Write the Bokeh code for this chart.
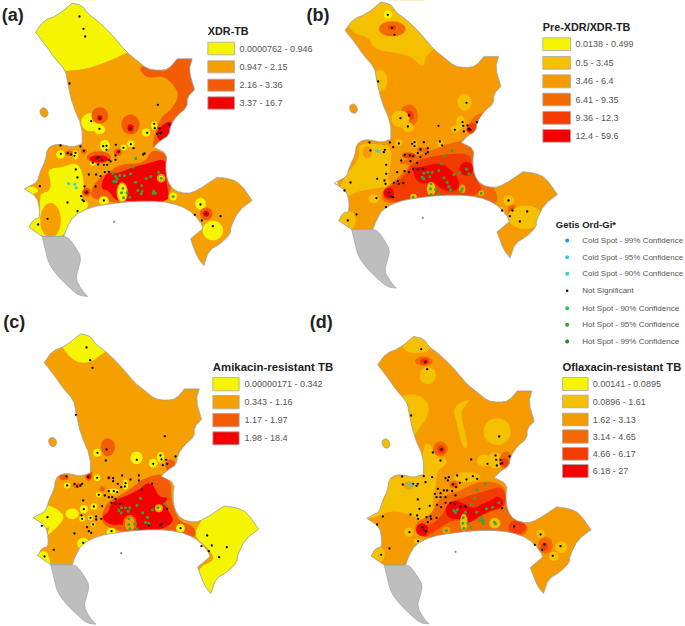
from bokeh.plotting import figure
from bokeh.models import Range1d
from bokeh.embed import file_html
from bokeh.resources import INLINE
from bokeh.core.properties import value

Y, G, O, O2, D, D2, R2, R = '#F5F500', '#F5C000', '#F59B00', '#F5A000', '#F26A00', '#F25C05', '#F23C00', '#F50000'

OUTLINE = [(215,8),(215,8),(245,15),(262,40),(290,60),(320,88),(345,115),(378,155),(410,180),(440,205),(475,210),(505,205),(530,175),(530,175),(575,175),(575,175),(565,210),(582,268),(582,268),(560,290),(560,320),(530,345),(510,375),(505,405),(480,420),(460,440),(460,440),(500,460),(495,500),(500,540),(520,570),(560,580),(590,570),(650,530),(650,530),(690,535),(720,550),(755,600),(755,600),(715,630),(690,680),(690,700),(660,730),(625,750),(610,795),(610,795),(590,770),(570,715),(570,715),(600,690),(610,680),(580,640),(540,615),(480,602),(400,602),(330,610),(270,620),(220,645),(200,680),(190,708),(190,708),(125,708),(125,708),(85,680),(85,680),(100,655),(115,655),(118,630),(110,590),(72,565),(72,565),(90,555),(110,545),(120,510),(135,480),(140,445),(160,432),(185,432),(215,440),(245,430),(245,430),(245,380),(215,310),(200,240),(195,210),(160,170),(140,140),(105,95),(105,95),(130,60),(170,45)]
ISLAND = [(118,325),(135,320),(145,340),(135,352),(120,345)]
PENINSULA = [(125,708),(125,708),(190,708),(190,708),(205,712),(225,740),(242,770),(235,800),(225,835),(245,870),(262,888),(262,888),(235,885),(205,860),(170,825),(145,790),(135,750)]

# panel (a)
A_POLYS = [
 (Y, [(90,0),(400,0),(400,160),(380,155),(330,180),(260,205),(195,212),(90,212)]),
 (D2, [(415,205),(430,195),(470,212),(505,210),(530,170),(590,170),(590,270),(565,300),(560,330),(520,350),(510,380),(505,430),(470,425),(455,445),(460,410),(480,350),(510,330),(535,290),(525,260),(490,225),(440,235)]),
 (R, [(490,370),(515,360),(515,390),(505,415),(480,425),(465,400),(475,385)]),
 (Y, [(140,505),(190,500),(225,485),(245,510),(252,570),(240,590),(262,605),(265,620),(225,645),(200,680),(190,708),(130,708),(85,690),(85,655),(115,650),(120,590),(120,580),(150,570),(150,540)]),
 (D2, [(325,515),(360,490),(430,490),(455,445),(495,460),(520,470),(510,610),(370,610),(300,600),(270,590),(275,560),(300,530)]),
 (R, [(325,515),(350,520),(395,500),(440,490),(485,475),(500,490),(497,525),(500,560),(510,605),(400,605),(375,600),(345,600),(325,570),(300,565),(310,530)]),
]
A_SPOTS = [(150,660,62,105,O2),(92,570,40,22,Y),(272,365,60,55,Y),(297,387,34,28,Y),(437,396,24,24,Y),(461,375,18,26,Y),(313,435,30,34,Y),(391,430,22,20,Y),(370,441,18,18,Y),(180,462,26,26,Y),(225,463,16,26,Y),(277,488,16,16,Y),(310,600,30,26,Y),(518,588,30,34,O2),(518,588,22,24,Y),(600,610,32,36,Y),(637,690,62,60,Y),(365,576,34,62,O2),(365,576,26,52,Y),(482,533,26,26,O2),(482,533,14,14,Y),
 (298,345,50,50,D2),(298,352,16,16,R),(390,372,55,60,D2),(390,382,18,22,R),(617,640,38,38,D2),(617,640,18,18,R),(258,575,26,26,D2),(258,575,14,14,R),(205,458,22,16,D2),(295,470,72,36,D2),(295,475,56,22,R),(352,455,24,22,D2),(352,455,10,10,R),(250,452,16,16,D2)]
A_DOTS = [(237,48),(249,85),(254,108),(207,249),(472,313),(298,354),(272,362),(297,385),(390,384),(440,397),(461,370),(463,383),(477,384),(470,400),(483,396),(478,398),(506,373),(180,435),(240,438),(308,437),(318,436),(346,433),(391,431),(369,442),(399,443),(318,448),(181,460),(202,458),(212,462),(225,457),(222,466),(250,451),(355,453),(277,487),(295,470),(288,473),(305,478),(325,478),(345,465),(345,478),(330,483),(432,459),(428,462),(293,492),(310,493),(320,493),(226,507),(231,531),(265,522),(287,522),(300,527),(313,515),(325,514),(118,557),(252,558),(285,558),(258,576),(242,587),(246,598),(250,602),(201,606),(231,632),(310,600),(141,655),(113,672),(583,643),(600,612),(617,640),(660,647),(604,660),(637,677)]
A_GREEN = [(406,474),(398,500),(337,518),(345,528),(358,525),(372,525),(390,520),(350,535),(340,543),(347,543),(451,528),(437,534),(405,545),(423,555),(412,570),(425,572),(422,580),(458,578),(465,578),(460,572),(474,515),(482,533),(518,588),(367,563),(363,577),(380,577),(369,592),(388,590)]
A_CYAN = [(204,549),(223,551),(227,562)]
A_SPECK = [(341,664)]

# panel (b)
B_POLYS = [
 (G, [(10,60),(130,-5),(300,-5),(300,130),(255,165),(250,205),(210,165),(150,155),(100,145),(85,110),(40,100)]),
 (G, [(20,520),(60,470),(50,430),(110,430),(155,440),(150,500),(140,540),(160,555),(100,565),(60,570),(15,590),(-10,570)]),
 (D, [(165,490),(215,470),(260,455),(320,430),(370,420),(380,410),(395,405),(380,380),(400,345),(445,330),(470,330),(470,420),(390,445),(415,510),(470,570),(470,620),(350,600),(220,610),(130,610),(120,575),(175,530),(215,490)]),
 (R2, [(210,490),(260,470),(330,460),(390,460),(395,500),(410,540),(430,575),(350,600),(220,610),(135,600),(125,575),(165,545),(200,520)]),
 (R, [(215,500),(240,500),(300,485),(340,515),(355,540),(355,565),(330,575),(300,565),(280,545),(250,550),(225,540)]),
]
B_SPOTS = [(142,42,24,26,Y),(155,85,80,45,D),(155,82,22,14,R2),(118,240,45,65,G),(372,305,42,50,G),(205,345,55,66,D),(205,345,30,32,R2),(205,345,12,14,R),(180,355,55,50,G),(203,380,32,30,G),(345,385,28,22,G),(360,365,26,42,G),(395,385,30,35,R2),(385,388,14,14,R),(378,505,42,42,R),(145,577,32,32,R),(272,565,26,42,G),(365,565,20,26,O),(219,590,20,20,G),(422,578,16,16,G),(100,595,32,26,G),(80,455,28,36,O),(20,660,52,62,G),(505,600,32,32,G),(516,628,30,30,D),(516,628,14,14,R2),(555,650,105,70,G),(482,630,16,22,G),(175,427,22,22,G),(222,430,16,26,G),(300,430,18,22,G),(205,465,42,18,R2),(240,447,20,16,D),(255,450,20,16,D)]
B_DOTS = [(142,43),(155,82),(162,103),(113,243),(378,307),(205,345),(180,353),(202,378),(294,376),(343,388),(366,365),(368,376),(381,375),(370,393),(385,385),(390,388),(409,365),(87,426),(148,426),(175,429),(222,425),(215,430),(250,425),(298,423),(305,435),(222,437),(240,447),(262,443),(158,440),(130,455),(90,450),(133,448),(193,463),(208,465),(218,467),(240,470),(262,455),(256,460),(232,458),(182,480),(210,482),(230,487),(137,493),(137,520),(170,515),(192,512),(205,515),(218,505),(232,507),(248,505),(110,535),(30,546),(12,570),(132,540),(135,550),(160,547),(172,542),(175,550),(188,548),(146,575),(150,587),(157,590),(108,593),(137,620),(48,642),(22,660),(504,600),(516,630),(560,633),(508,647),(538,663),(485,630)]
B_GREEN = [(312,465),(335,450),(303,490),(250,518),(262,515),(275,515),(295,510),(245,530),(250,535),(268,528),(358,517),(340,522),(310,532),(378,506),(385,520),(320,545),(325,558),(330,568),(272,550),(270,565),(285,567),(272,582),(295,580),(365,565),(362,572),(218,590),(422,578)]
B_CYAN = [(108,450),(115,453)]
B_SPECK = [(247,652)]

# panel (c)
C_POLYS = [
 (Y, [(150,70),(340,70),(340,140),(310,155),(270,188),(225,185),(190,150)]),
 (Y, [(578,705),(600,665),(630,610),(800,610),(800,910),(580,910),(590,800),(645,780),(625,745)]),
 (Y, [(135,610),(170,625),(195,650),(165,685),(135,710),(150,675),(125,690),(85,670),(85,650)]),
 (Y, [(95,770),(135,745),(150,780),(150,810),(125,810),(95,775)]),
 (D2, [(305,640),(320,605),(350,590),(390,565),(420,540),(455,525),(490,520),(515,555),(510,590),(530,650),(545,665),(585,680),(585,715),(520,705),(430,705),(345,690),(305,670)]),
 (R, [(300,650),(325,635),(330,605),(380,585),(420,565),(440,545),(460,555),(475,590),(505,590),(490,610),(510,640),(520,660),(500,680),(440,700),(390,700),(370,670),(330,675)]),
]
C_SPOTS = [(215,640,40,32,Y),(248,730,36,36,Y),(388,670,42,54,D2),(388,670,30,42,O2),(475,623,24,24,O2),(475,623,12,12,Y),(540,683,26,26,Y),(333,695,28,26,Y),(322,440,42,54,D2),(408,472,36,38,Y),(290,457,24,24,Y),(458,488,26,26,Y),(480,470,22,32,Y),(510,495,32,38,D2),(190,530,28,18,D2),(265,525,22,32,D2),(265,528,12,16,R),(290,532,20,20,Y),(200,555,20,18,Y),(230,555,26,14,D2),(250,626,24,24,Y),(280,618,20,20,Y),(245,655,18,18,Y),(270,652,16,16,Y),(295,583,18,16,Y),(305,565,16,16,D2),(340,572,32,14,Y),(375,552,16,30,Y),(278,672,14,14,Y),(325,532,12,12,D2)]
C_DOTS = [(258,141),(269,179),(276,202),(226,343),(493,407),(318,447),(316,480),(291,457),(409,478),(458,490),(480,465),(483,477),(497,478),(487,494),(500,490),(525,468),(198,528),(262,530),(290,532),(325,532),(338,533),(338,542),(365,525),(415,525),(415,540),(390,537),(352,550),(375,548),(373,558),(362,560),(200,555),(222,550),(230,558),(240,555),(245,550),(295,583),(313,585),(325,572),(340,572),(350,575),(325,590),(335,590),(425,567),(455,550),(248,600),(345,595),(333,607),(345,610),(358,610),(250,626),(280,618),(305,617),(243,645),(245,655),(270,652),(287,648),(287,657),(302,655),(141,650),(124,676),(260,680),(265,692),(272,697),(222,699),(333,692),(248,727),(160,748),(132,768),(278,672),(500,625),(485,668),(480,674),(445,675),(620,705),(603,737),(634,735),(625,752),(679,740),(656,770),(540,683)]
C_GREEN = [(420,594),(409,614),(363,622),(375,622),(388,622),(355,630),(362,637),(383,632),(427,637),(441,650),(435,665),(445,668),(456,628),(473,622),(493,610),(385,655),(385,672),(402,670),(388,685),(410,685)]
C_CYAN = []
C_SPECK = [(362,758)]

# panel (d)
D_POLYS = [
 (G, [(170,80),(290,80),(280,130),(260,155),(230,158),(190,155)]),
 (G, [(180,285),(225,280),(260,300),(268,340),(225,400),(215,415),(205,350),(180,300)]),
 (G, [(335,320),(395,290),(370,320),(360,340),(385,445),(365,440),(350,370)]),
 (G, [(130,545),(185,520),(240,520),(250,430),(270,430),(285,470),(320,475),(315,495),(290,510),(285,560),(275,600),(280,640),(270,670),(240,660),(205,640),(150,630),(110,650),(70,655),(120,620),(135,590)]),
 (D, [(275,640),(295,590),(360,570),(420,540),(490,550),(500,600),(510,650),(570,680),(545,710),(510,705),(430,700),(300,710),(230,710),(220,670)]),
 (R2, [(225,665),(265,680),(310,640),(320,610),(370,590),(440,570),(490,555),(500,620),(430,640),(400,665),(360,660),(330,660),(280,695),(240,715)]),
 (R, [(310,625),(340,595),(370,610),(400,625),(425,610),(460,595),(470,585),(490,600),(485,620),(450,630),(410,650),(385,670),(360,655),(325,655)]),
]
D_SPOTS = [(250,182,52,28,D),(252,183,28,20,R2),(255,183,12,10,R),(262,225,48,52,G),(470,393,82,80,G),(380,530,80,30,G),(430,480,40,36,G),(465,480,50,46,G),(205,555,30,26,O),(245,687,36,38,R),(530,680,52,42,R2),(205,695,28,28,G),(318,690,24,22,O),(463,668,34,32,G),(370,665,22,52,G),(600,700,24,24,G),(662,740,36,36,G),(640,768,28,28,G),(110,762,46,54,G),(232,722,26,16,G),(615,735,44,50,D),(612,738,20,26,R2),(300,445,44,44,D),(302,447,26,26,R2),(303,447,12,12,R),(497,480,42,54,D),(492,485,22,24,R2),(340,552,26,22,D),(340,552,14,12,R2)]
D_ISLAND_FILL = (G, [(125,418),(140,415),(150,435),(140,448),(128,440)])
D_DOTS = [(242,146),(254,185),(260,206),(212,345),(476,408),(303,447),(277,456),(300,480),(392,477),(441,490),(465,465),(467,478),(480,478),(469,495),(485,488),(481,490),(507,468),(185,528),(250,527),(275,530),(315,533),(325,530),(322,540),(350,525),(397,527),(410,535),(378,537),(187,552),(232,550),(228,556),(218,550),(255,545),(337,552),(358,547),(347,560),(292,565),(300,578),(310,570),(320,570),(335,572),(345,585),(283,580),(288,590),(315,590),(300,590),(232,597),(290,613),(268,616),(315,607),(330,608),(343,610),(360,618),(375,618),(237,625),(302,620),(210,642),(230,645),(233,655),(258,650),(270,648),(272,655),(288,652),(262,665),(127,648),(110,672),(207,695),(245,680),(250,688),(257,693),(233,722),(147,744),(122,763),(485,623),(600,702),(612,732),(605,748),(583,733),(660,737),(637,766),(521,678)]
D_GREEN = [(410,568),(403,593),(340,630),(350,628),(345,636),(392,612),(375,635),(438,625),(456,620),(475,607),(408,635),(422,650),(418,660),(428,668),(428,660),(368,652),(367,668),(382,668),(370,683),(392,680),(462,665),(465,670),(318,690),(435,550)]
D_CYAN = [(205,550),(213,555)]
D_SPECK = [(345,754)]

PANELS = [
 dict(org=(0,0), base=O2, polys=A_POLYS, spots=A_SPOTS, dots=A_DOTS, green=A_GREEN, cyan=A_CYAN, speck=A_SPECK,
      t=(1,0,1,0), rect=(0,0,1011,900), label=("(a)",4,42), ts="10.8px",
      title="XDR-TB", tx=622, ty=90, sw=(622,702), text_x=717,
      sy=[(125,163),(181,217),(236,272),(289,326)], cols=[Y,O2,D2,R],
      labels=["0.0000762 - 0.946","0.947 - 2.15","2.16 - 3.36","3.37 - 16.7"]),
 dict(org=(340,0), base=O, polys=B_POLYS, spots=B_SPOTS, dots=B_DOTS, green=B_GREEN, cyan=B_CYAN, speck=B_SPECK,
      t=(0.98,-89,0.975,-3), rect=(-9,-9,1035,900), label=("(b)",-102,42), ts="10.8px",
      title="Pre-XDR/XDR-TB", tx=607, ty=78, sw=(607,690), text_x=705,
      sy=[(112,150),(168,206),(223,262),(278,316),(333,371),(387,425)], cols=[Y,G,O,D,R2,R],
      labels=["0.0138 - 0.499","0.5 - 3.45","3.46 - 6.4","6.41 - 9.35","9.36 - 12.3","12.4 - 59.6"]),
 dict(org=(0,300), base=O2, polys=C_POLYS, spots=C_SPOTS, dots=C_DOTS, green=C_GREEN, cyan=C_CYAN, speck=C_SPECK,
      t=(0.99,27,0.99,92), rect=(0,0,1011,975), label=("(c)",8,65), ts="11.4px",
      title="Amikacin-resistant TB", tx=637, ty=198, sw=(637,716), text_x=732,
      sy=[(231,271),(285,325),(339,379),(394,433)], cols=[Y,O2,D2,R],
      labels=["0.00000171 - 0.342","0.343 - 1.16","1.17 - 1.97","1.98 - 18.4"]),
 dict(org=(340,300), base=O, polys=D_POLYS+[D_ISLAND_FILL], spots=D_SPOTS, dots=D_DOTS, green=D_GREEN, cyan=D_CYAN, speck=D_SPECK,
      t=(0.985,8,0.98,100), rect=(-9,0,1035,975), label=("(d)",-92,65), ts="11.2px",
      title="Oflaxacin-resistant TB", tx=666, ty=198, sw=(666,743), text_x=757,
      sy=[(231,270),(284,322),(338,376),(388,428),(441,479),(492,531)], cols=[Y,G,O,D,R2,R],
      labels=["0.00141 - 0.0895","0.0896 - 1.61","1.62 - 3.13","3.14 - 4.65","4.66 - 6.17","6.18 - 27"]),
]

GETIS_TITLE = "Getis Ord-Gi*"
GETIS_LABELS = ["Cold Spot - 99% Confidence","Cold Spot - 95% Confidence","Cold Spot - 90% Confidence","Not Significant","Hot Spot - 90% Confidence","Hot Spot - 95% Confidence","Hot Spot - 99% Confidence"]
GETIS_COLORS = ['#1E9BE0','#2FD0E8','#2ED8B0','#000000','#2ECC50','#3FA02A','#1E8A1E']
GETIS_ROWS = [90,140,190,241,293,343,393]

p = figure(width=685, height=626, x_range=Range1d(0,685), y_range=Range1d(626,0),
           output_backend="svg", toolbar_location=None, min_border=0)
p.xaxis.visible = False
p.yaxis.visible = False
p.grid.visible = False
p.outline_line_color = None

FONT = value("Liberation Sans")

def place(P, pts):
    ox, oy = P['org']
    return [ox + x/3 for x,_ in pts], [oy + y/3 for _,y in pts]

def shape(P, pts):
    sx, dx, sy, dy = P['t']
    return [(sx*x+dx, sy*y+dy) for x,y in pts]

def rounded(pts, n=2):
    # rounds the corners of a hand-read contour
    for _ in range(n):
        out = []
        for i, (x0,y0) in enumerate(pts):
            x1,y1 = pts[(i+1) % len(pts)]
            out += [(.75*x0+.25*x1, .75*y0+.25*y1), (.25*x0+.75*x1, .25*y0+.75*y1)]
        pts = out
    return pts

for P in PANELS:
    ox_, oy_ = place(P, shape(P, rounded(OUTLINE, 1)))
    ix_, iy_ = place(P, shape(P, rounded(ISLAND, 2)))
    px_, py_ = place(P, shape(P, rounded(PENINSULA, 1)))
    p.patch(ox_, oy_, fill_color=P['base'], line_color=None)
    p.patch(ix_, iy_, fill_color=P['base'], line_color=None)
    # filled zones
    for col, pts in P['polys']:
        xs, ys = place(P, rounded(pts, 2))
        p.patch(xs, ys, fill_color=col, line_color=None)
    # round zones
    sx_, sy_ = place(P, [(s[0], s[1]) for s in P['spots']])
    p.ellipse(sx_, sy_, width=[s[2]/3 for s in P['spots']], height=[s[3]/3 for s in P['spots']],
              fill_color=[s[4] for s in P['spots']], line_color=None)
    # white mask outside the coast
    x0,y0,x1,y1 = P['rect']
    rx, ry = place(P, [(x0,y0),(x1,y0),(x1,y1),(x0,y1)])
    p.multi_polygons(xs=[[[rx, ox_, ix_]]], ys=[[[ry, oy_, iy_]]], fill_color="white", line_color=None)
    # coast line and the grey peninsula
    p.patch(ox_, oy_, fill_alpha=0, line_color="#9A9A9A", line_width=0.8)
    p.patch(ix_, iy_, fill_alpha=0, line_color="#9A9A9A", line_width=0.8)
    p.patch(px_, py_, fill_color="#BEBEBE", line_color="#9A9A9A", line_width=0.6)
    # hot-spot points
    for key, col, size in (('speck','#8A8A8A',2.2),('dots','#000000',2.3),('green','#2FA83A',3.0),('cyan','#2FD0E8',3.0)):
        if P[key]:
            xs, ys = place(P, P[key])
            p.scatter(xs, ys, size=size, marker="circle", fill_color=col, line_color=None)
    # panel letter
    t, lx, ly = P['label']
    ax, ay = place(P, [(lx, ly)])
    p.text(ax, ay, text=[t], text_font=FONT, text_font_style="bold", text_font_size="18px",
           text_color="#222222", text_baseline="middle", text_align="left")
    # legend
    tx, ty = place(P, [(P['tx'], P['ty'])])
    p.text(tx, ty, text=[P['title']], text_font=FONT, text_font_style="bold", text_font_size=P['ts'],
           text_color="#222222", text_baseline="middle")
    for (a,b), col, lab in zip(P['sy'], P['cols'], P['labels']):
        qx, qy = place(P, [(P['sw'][0],a),(P['sw'][1],b)])
        p.quad(left=[qx[0]], right=[qx[1]], top=[qy[0]], bottom=[qy[1]], fill_color=col, line_color="#A8A8A8", line_width=0.8)
        lxs, lys = place(P, [(P['text_x'], (a+b)/2)])
        p.text(lxs, lys, text=[lab], text_font=FONT, text_font_size="9px", text_color="#555555", text_baseline="middle")

# Getis legend
G_ORG = dict(org=(540,210))
gx, gy = place(G_ORG, [(46,43)])
p.text(gx, gy, text=[GETIS_TITLE], text_font=FONT, text_font_style="bold", text_font_size="9.5px",
       text_color="#222222", text_baseline="middle")
for row, lab, col in zip(GETIS_ROWS, GETIS_LABELS, GETIS_COLORS):
    dx_, dy_ = place(G_ORG, [(80,row)])
    p.scatter(dx_, dy_, size=4 if col != '#000000' else 2.5, marker="circle", fill_color=col, line_color=None)
    tx_, ty_ = place(G_ORG, [(125,row)])
    p.text(tx_, ty_, text=[lab], text_font=FONT, text_font_size="8px", text_color="#555555", text_baseline="middle")

open("out.html", "w").write(file_html(p, INLINE))
